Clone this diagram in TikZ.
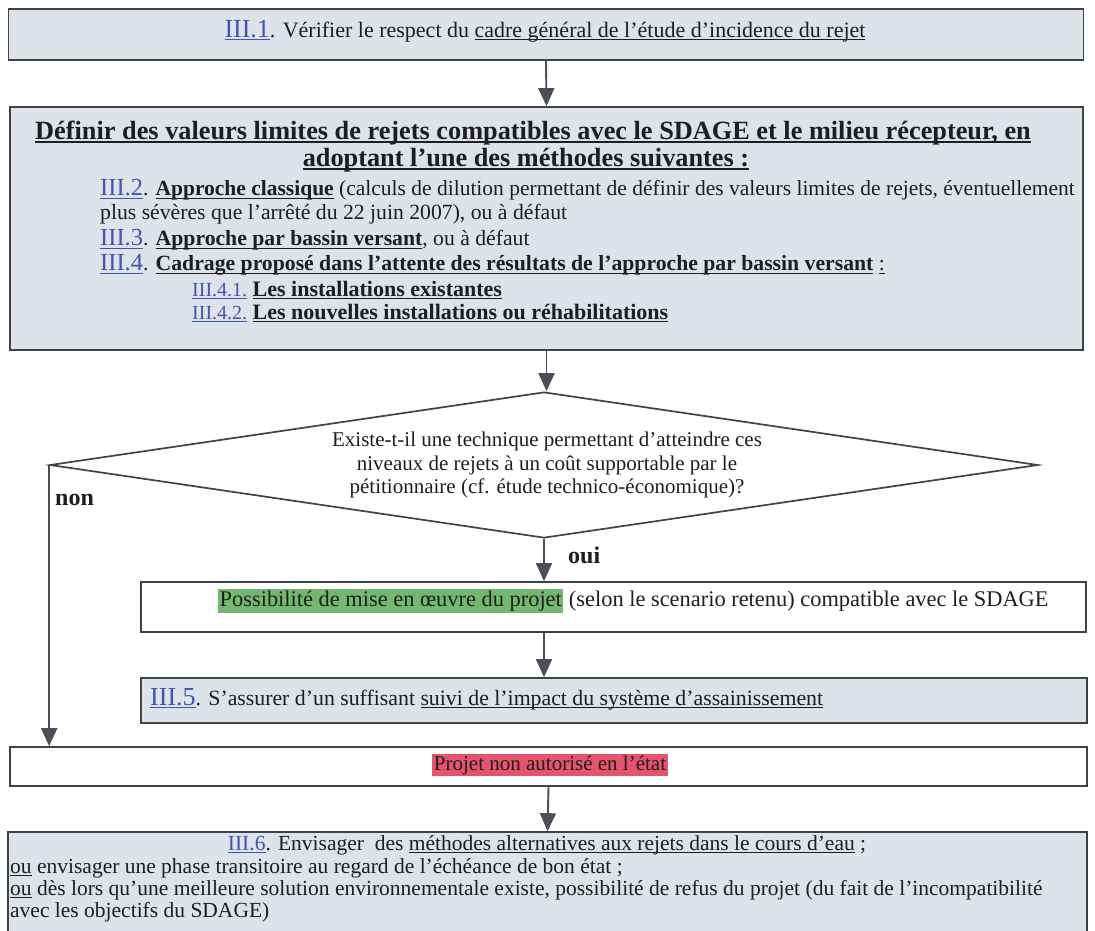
\documentclass[tikz,border=0pt]{standalone}
\usepackage{fontspec}
\setmainfont{Liberation Serif}
\usetikzlibrary{shapes.geometric,arrows.meta}
\definecolor{boxfill}{HTML}{DEE2E9}
\definecolor{edge}{HTML}{3F4247}
\definecolor{arrowc}{HTML}{4B5058}
\definecolor{linkblue}{HTML}{3F55B4}
\definecolor{hlgreen}{HTML}{72B96F}
\definecolor{hlred}{HTML}{E6536C}
\definecolor{ink}{HTML}{1E1E1E}
\newsavebox{\myubox}
\newcommand{\uu}[1]{\sbox{\myubox}{#1}\rlap{\rule[-3.2pt]{\wd\myubox}{1.3pt}}\usebox{\myubox}}
\newcommand{\lnk}[1]{{\color{linkblue}\uu{#1}}}
\newcommand{\fsz}[1]{\fontsize{#1}{#1}\selectfont}
\begin{document}
\begin{tikzpicture}[x=1pt,y=-1pt,
  bluebox/.style={draw=edge, line width=1.7pt, fill=boxfill, rectangle, inner sep=0pt},
  whitebox/.style={draw=edge, line width=1.7pt, fill=white, rectangle, inner sep=0pt},
  arr/.style={draw=arrowc, line width=1.9pt, -{Triangle[length=18pt,width=16pt]}},
  txt/.style={inner sep=0pt, text=ink, font=\fsz{21.5}},
  ttl/.style={inner sep=0pt, text=ink, font=\fsz{26.3}\bfseries},
  lbl/.style={inner sep=0pt, text=ink, font=\fsz{24}\bfseries}]
\useasboundingbox (0,0) rectangle (1095,930);
\fill[white] (0,0) rectangle (1095,930);

% boxes
\node[bluebox, minimum width=1075pt, minimum height=51pt] (b1) at (546,34.5) {};
\node[bluebox, minimum width=1073pt, minimum height=243pt] (b2) at (546.5,228.5) {};
\node[draw=edge, line width=1.7pt, fill=white, diamond, inner sep=0pt,
      minimum width=988pt, minimum height=146pt] (dia) at (544,465) {};
\node[whitebox, minimum width=945pt, minimum height=50pt] (b3) at (613.5,607) {};
\node[bluebox, minimum width=946pt, minimum height=45pt] (b4) at (614,700.5) {};
\node[whitebox, minimum width=1077pt, minimum height=39pt] (b5) at (548.5,766.5) {};
\node[bluebox, minimum width=1079pt, minimum height=110pt] (b6) at (547.5,887) {};

% box 1 text
\node[txt, font=\fsz{22}] (t1) at (545,31) {{\fsz{26}\lnk{III.1}}. Vérifier le respect du \uu{cadre général de l’étude d’incidence du rejet}};

% box 2 text
\node[ttl] (t2a) at (533,133) {\uu{Définir des valeurs limites de rejets compatibles avec le SDAGE et le milieu récepteur, en}};
\node[ttl] (t2b) at (526,160) {\uu{adoptant l’une des méthodes suivantes :}};
\node[txt, anchor=west, font=\fsz{21.5}] (t2c) at (100,190) {{\fsz{24.5}\lnk{III.2}}. \textbf{\uu{Approche classique}} (calculs de dilution permettant de définir des valeurs limites de rejets, éventuellement};
\node[txt, anchor=west, font=\fsz{21.7}] (t2d) at (100,214) {plus sévères que l’arrêté du 22 juin 2007), ou à défaut};
\node[txt, anchor=west, font=\fsz{21.7}] (t2e) at (100,240) {{\fsz{24.5}\lnk{III.3}}. \textbf{\uu{Approche par bassin versant}}, ou à défaut};
\node[txt, anchor=west, font=\fsz{21.7}] (t2f) at (100,265) {{\fsz{24.5}\lnk{III.4}}. \textbf{\uu{Cadrage proposé dans l’attente des résultats de l’approche par bassin versant}} \uu{:}};
\node[txt, anchor=west, font=\fsz{22}] (t2g) at (192,290) {{\fsz{20}\lnk{III.4.1.}} \textbf{\uu{Les installations existantes}}};
\node[txt, anchor=west, font=\fsz{22}] (t2h) at (192,313) {{\fsz{20}\lnk{III.4.2.}} \textbf{\uu{Les nouvelles installations ou réhabilitations}}};

% diamond text
\node[txt, font=\fsz{21}] (d1) at (547,441) {Existe-t-il une technique permettant d’atteindre ces};
\node[txt, font=\fsz{21}] (d2) at (547,465) {niveaux de rejets à un coût supportable par le};
\node[txt, font=\fsz{21}] (d3) at (547,488) {pétitionnaire (cf. étude technico-économique)?};

\node[lbl, anchor=west] (non) at (55,500) {non};
\node[lbl, anchor=west] (oui) at (568,555) {oui};

% box 3 text
\node[txt, anchor=west, font=\fsz{22.4}] (t3) at (218,601) {\setlength{\fboxsep}{1.5pt}\colorbox{hlgreen}{Possibilité de mise en œuvre du projet} (selon le scenario retenu) compatible avec le SDAGE};

% box 4 text
\node[txt, anchor=west, font=\fsz{21.8}] (t4) at (150,699) {{\fsz{26}\lnk{III.5}}. S’assurer d’un suffisant \uu{suivi de l’impact du système d’assainissement}};

% box 5 text
\node[txt, font=\fsz{21}] (t5) at (550,765) {\setlength{\fboxsep}{1.5pt}\colorbox{hlred}{Projet non autorisé en l’état}};

% box 6 text
\node[txt] (t6a) at (547,845) {\lnk{III.6}. Envisager\ \ des \uu{méthodes alternatives aux rejets dans le cours d’eau} ;};
\node[txt, anchor=west] (t6b) at (10,868) {\uu{ou} envisager une phase transitoire au regard de l’échéance de bon état ;};
\node[txt, anchor=west] (t6c) at (10,890) {\uu{ou} dès lors qu’une meilleure solution environnementale existe, possibilité de refus du projet (du fait de l’incompatibilité};
\node[txt, anchor=west] (t6d) at (10,912) {avec les objectifs du SDAGE)};

% connectors
\draw[arr] (b1.south) -- (b2.north);
\draw[arr] (b2.south) -- (b2.south |- dia.north);
\draw[arr] (dia.south) -- (dia.south |- b3.north);
\draw[arr] (dia.south |- b3.south) -- (dia.south |- b4.north);
\draw[arr] (dia.west) -- (dia.west |- b5.north);
\draw[arr] (b5.south) -- (b6.north);
\end{tikzpicture}
\end{document}
